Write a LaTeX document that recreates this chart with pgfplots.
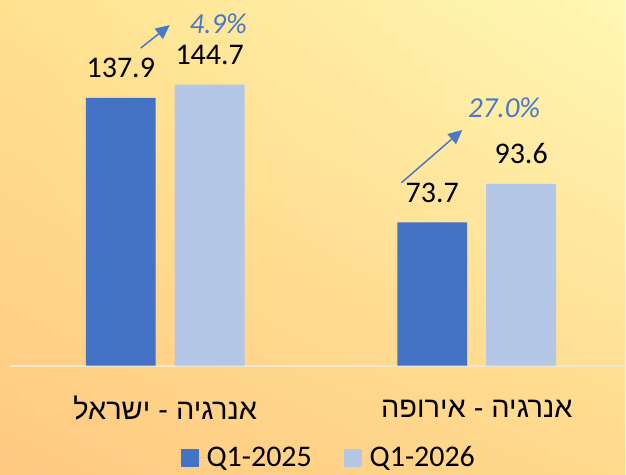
\documentclass[border=0pt]{standalone}
\usepackage{fontspec}
\setmainfont{Carlito}
\newfontfamily\hebfont[Script=Hebrew]{Liberation Sans}
\TeXXeTstate=1
\usepackage{pgfplots}
\pgfplotsset{compat=1.18}
\usetikzlibrary{arrows.meta, shadings}
\definecolor{darkbar}{HTML}{4472C4}
\definecolor{lightbar}{HTML}{B4C7E7}
\definecolor{pctblue}{HTML}{4A78C8}
\definecolor{bgTL}{HTML}{FFE18E}
\definecolor{bgTR}{HTML}{FFF8B5}
\definecolor{bgBL}{HTML}{FFC982}
\definecolor{bgBR}{HTML}{FFD98C}
\definecolor{basecol}{HTML}{EDE6D2}

\begin{document}
\begin{tikzpicture}
    % Hintergrund mit Verlauf
    \shade[upper left=bgTL, upper right=bgTR, lower left=bgBL, lower right=bgBR]
        (0,0) rectangle (626bp,475bp);
    \begin{axis}[
        at={(0bp,109bp)}, anchor=south west,
        scale only axis,
        width=626bp, height=366bp,
        xmin=-0.5304, xmax=1.4760,
        ymin=0, ymax=188.2,
        clip=false,
        axis line style={draw=none},
        ytick=\empty,
        xtick={0,1},
        xticklabels={{\hebfont\beginR אנרגיה - ישראל\endR},{\hebfont\beginR אנרגיה - אירופה\endR}},
        major tick length=0pt,
        xticklabel style={anchor=center, inner sep=0pt, yshift=-43bp,
            font=\fontsize{29bp}{35bp}\selectfont},
        ybar=19bp, bar width=70bp,
        nodes near coords,
        point meta=explicit symbolic,
        every node near coord/.append style={font=\fontsize{30bp}{36bp}\selectfont,
            inner sep=0pt, anchor=south, yshift=20bp, text=black},
        legend columns=2,
        legend style={at={(0.526,-0.252)}, anchor=center, draw=none, fill=none,
            font=\fontsize{30bp}{36bp}\selectfont, inner ysep=0pt,
            /tikz/every even column/.append style={column sep=30bp}},
        legend image code/.code={%
            \path (0bp,0bp) -- (24bp,0bp);
            \fill[#1, draw=none] (0bp,-9bp) rectangle (18bp,9bp);},
    ]
    \draw[basecol, line width=2bp] (axis cs:-0.498,0) -- (axis cs:1.476,0);

    \addplot[fill=darkbar, draw=none] coordinates {(0,137.9) [137.9] (1,73.7) [73.7]};
    \addplot[fill=lightbar, draw=none] coordinates {(0,144.7) [144.7] (1,93.6) [93.6]};
    \legend{Q1-2025, Q1-2026}

    % Veraenderung in Prozent
    \draw[pctblue, line width=1.5bp, -{Triangle[length=14bp, width=13bp]}]
        (axis cs:-0.0785,163.5) -- (axis cs:0.0144,175.3);
    \draw[pctblue, line width=1.5bp, -{Triangle[length=14bp, width=13bp]}]
        (axis cs:0.758,94.1) -- (axis cs:0.9535,121.3);
    \node[anchor=base, text=pctblue, font=\itshape\fontsize{29bp}{35bp}\selectfont]
        at (axis cs:0.170,171.2) {4.9\%};
    \node[anchor=base, text=pctblue, font=\itshape\fontsize{29bp}{35bp}\selectfont]
        at (axis cs:1.088,127.5) {27.0\%};
    \end{axis}
\end{tikzpicture}
\end{document}
